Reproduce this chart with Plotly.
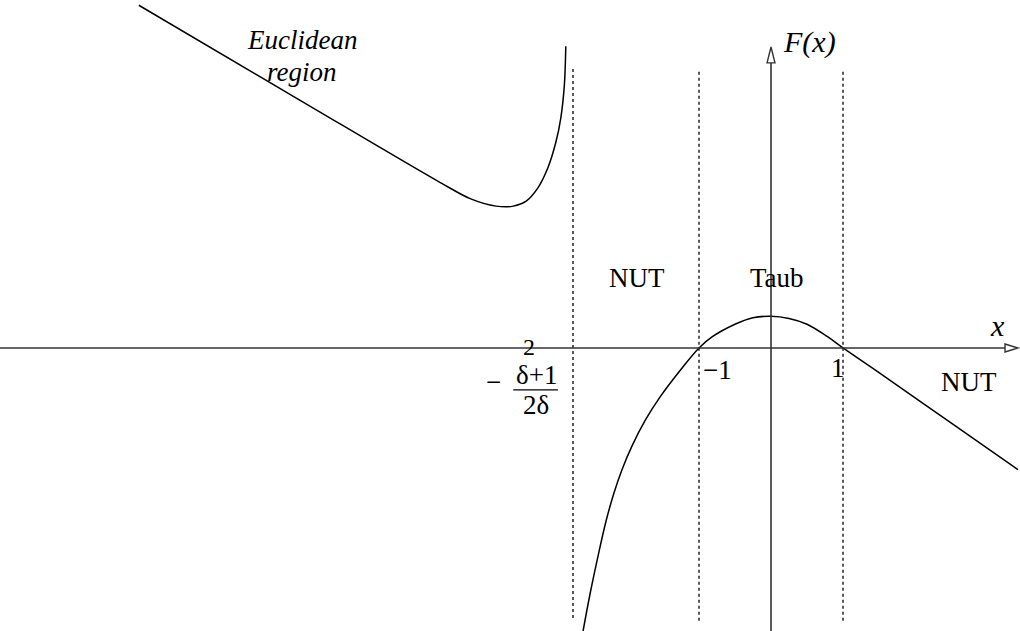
import plotly.graph_objects as go

# Euclidean branch (left of the asymptote)
euclid_x = [-8.78, -6.54, -4.58, -4.17, -3.82, -3.58, -3.40, -3.24, -3.10,
            -2.99, -2.92, -2.87, -2.85]
euclid_y = [4.76, 3.44, 2.29, 2.07, 1.97, 1.97, 2.04, 2.22, 2.50,
            2.85, 3.19, 3.65, 4.19]

# NUT / Taub / NUT branch
lor_x = [-2.61, -2.51, -2.40, -2.29, -2.18, -2.07, -1.93, -1.75, -1.54, -1.26,
         -1.00, -0.81, -0.50, -0.25, 0.00, 0.25, 0.50, 0.78, 1.00, 1.51, 2.50, 3.43]
lor_y = [-3.93, -3.40, -2.88, -2.40, -2.01, -1.69, -1.36, -1.01, -0.68, -0.31,
         0.00, 0.16, 0.33, 0.42, 0.44, 0.41, 0.33, 0.16, 0.00, -0.35, -1.04, -1.69]

# region boundaries (dashed)
bound_x = [-2.75, -1.0, 1.0]
bound_top = [3.89, 3.86, 3.86]
bound_bot = [-3.75, -3.79, -3.79]

x_range = [-10.708, 3.458]
y_range = [-3.931, 4.833]

serif = "Liberation Serif"

fig = go.Figure()

for bx, t, b in zip(bound_x, bound_top, bound_bot):
    fig.add_trace(go.Scatter(x=[bx, bx], y=[b, t], mode="lines",
                             line=dict(color="black", width=1.3, dash="3px,3px"),
                             hoverinfo="skip"))

fig.add_trace(go.Scatter(x=euclid_x, y=euclid_y, mode="lines",
                         line=dict(color="black", width=1.5, shape="spline", smoothing=0.9),
                         hoverinfo="skip"))
fig.add_trace(go.Scatter(x=lor_x, y=lor_y, mode="lines",
                         line=dict(color="black", width=1.5, shape="spline", smoothing=1.0),
                         hoverinfo="skip"))

# axes drawn by hand, with open arrow heads
ax = dict(color="#333", width=1.6)
fig.add_shape(type="line", x0=x_range[0], x1=3.26, y0=0, y1=0, line=ax)
fig.add_shape(type="line", x0=0, x1=0, y0=y_range[0], y1=3.97, line=ax)
fig.add_shape(type="path", path="M 3.25,0.055 L 3.43,0 L 3.25,-0.055 Z",
              line=dict(color="#333", width=1.4), fillcolor="white")
fig.add_shape(type="path", path="M -0.055,3.96 L 0,4.18 L 0.055,3.96 Z",
              line=dict(color="#333", width=1.4), fillcolor="white")
# fraction bar of the tick label
fig.add_shape(type="line", x0=-3.58, x1=-2.96, y0=-0.583, y1=-0.583,
              line=dict(color="black", width=1.3))

labels = [
    ("<i>Euclidean</i>", -6.51, 4.28, 27),
    ("<i>region</i>", -6.51, 3.83, 27),
    ("NUT", -1.86, 0.97, 27),
    ("Taub", 0.08, 0.97, 27),
    ("NUT", 2.75, -0.47, 27),
    ("<i>x</i>", 3.15, 0.31, 30),
    ("<i>F(x)</i>", 0.54, 4.25, 30),
    ("\u22121", -0.75, -0.31, 27),
    ("1", 0.93, -0.28, 27),
    ("\u2212", -3.85, -0.47, 27),
    ("\u03b4+1", -3.26, -0.37, 27),
    ("2", -3.36, 0.01, 24),
    ("2\u03b4", -3.26, -0.79, 27),
]
for txt, lx, ly, size in labels:
    fig.add_annotation(x=lx, y=ly, text=txt, showarrow=False,
                       font=dict(family=serif, size=size, color="black"))

fig.update_layout(
    width=1020, height=631,
    margin=dict(l=0, r=0, t=0, b=0, pad=0),
    paper_bgcolor="white", plot_bgcolor="white",
    showlegend=False,
    xaxis=dict(visible=False, range=x_range, fixedrange=True),
    yaxis=dict(visible=False, range=y_range, fixedrange=True),
)

fig.write_html("out.html", config={"displayModeBar": False},
               post_script="document.body.style.margin='0';")
